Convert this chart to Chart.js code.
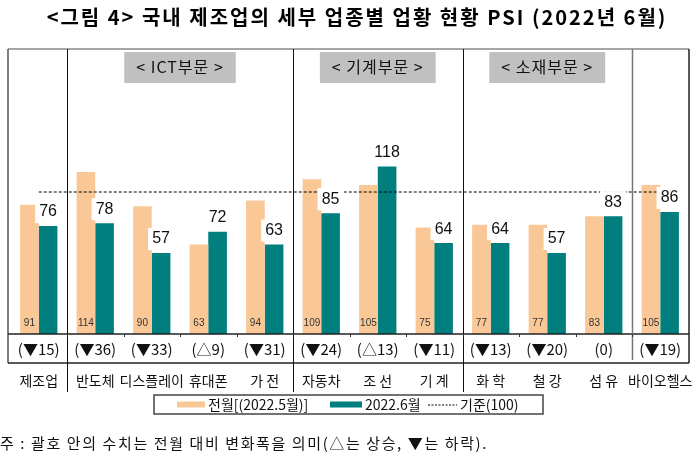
<!DOCTYPE html>
<html>
<head>
<meta charset="utf-8">
<script src="https://cdn.jsdelivr.net/npm/chart.js@4.4.0/dist/chart.umd.min.js"></script>
<style>
    body { margin: 0; background: #fff; }
    canvas { display: block; }
</style>
</head>
<body>
<canvas id="graficoPSI" width="698" height="475"></canvas>
<script>
// * 차트 데이터
var categorias = ['제조업', '반도체', '디스플레이', '휴대폰', '가 전', '자동차', '조 선', '기 계', '화 학', '철 강', '섬 유', '바이오헬스'];
var mesAnterior = [91, 114, 90, 63, 94, 109, 105, 75, 77, 77, 83, 105];
var mesAtual = [76, 78, 57, 72, 63, 85, 118, 64, 64, 57, 83, 86];
var referencia = [100, 100, 100, 100, 100, 100, 100, 100, 100, 100, 100, 100];
var variacoes = ['(▼15)', '(▼36)', '(▼33)', '(△9)', '(▼31)', '(▼24)', '(△13)', '(▼11)', '(▼13)', '(▼20)', '(0)', '(▼19)'];
var legendas = ['전월[(2022.5월)]', '2022.6월', '기준(100)'];
// ? 부문 이름과 첫/마지막 카테고리 번호
var secoes = ['< ICT부문 >', '< 기계부문 >', '< 소재부문 >'];
var secoesInicio = [1, 5, 8];
var secoesFim = [4, 7, 10];

var titulo = '<그림 4> 국내 제조업의 세부 업종별 업황 현황 PSI (2022년 6월)';
var nota = '주 : 괄호 안의 수치는 전월 대비 변화폭을 의미(△는 상승, ▼는 하락).';

var corLaranja = '#FAC897';
var corVerde = '#007F7E';
var fonteKR = '"Noto Sans CJK KR", "Noto Sans", sans-serif';
var fonteNum = '"Liberation Sans", Arial, sans-serif';

// * 값 라벨 (막대 위/아래)
var rotulosPlugin = {
    id: 'rotulos',
    afterDatasetsDraw: function (chart) {
        var ctx = chart.ctx;
        var m0 = chart.getDatasetMeta(0);
        var m1 = chart.getDatasetMeta(1);
        ctx.save();
        ctx.textAlign = 'center';
        ctx.textBaseline = 'middle';
        for (var i = 0; i < categorias.length; i++) {
            var b = m0.data[i];
            ctx.fillStyle = '#333';
            ctx.font = '10px ' + fonteNum;
            ctx.fillText(mesAnterior[i], b.x, b.base - 11);

            var t = m1.data[i];
            ctx.fillStyle = '#fff';
            ctx.fillRect(t.x - 13, t.y - 25, 26, 22);
            ctx.fillStyle = '#111';
            ctx.font = '16px ' + fonteNum;
            ctx.fillText(mesAtual[i], t.x, t.y - 14);
        }
        ctx.restore();
    }
};

// * 틀, 제목, 부문 상자, 변화폭, 카테고리, 범례
var molduraPlugin = {
    id: 'moldura',
    afterDraw: function (chart) {
        var ctx = chart.ctx;
        var area = chart.chartArea;
        var x = chart.scales.x;
        var esq = area.left - 2.5;
        var dir = area.right + 0.5;
        var topo = area.top - 1;
        var base = area.bottom;
        var linhaVar = base + 29;
        var fundo = base + 58;

        function limite(i) {
            return (x.getPixelForValue(i) + x.getPixelForValue(i + 1)) / 2;
        }
        function linha(x1, y1, x2, y2, cor, larg) {
            ctx.beginPath();
            ctx.strokeStyle = cor;
            ctx.lineWidth = larg;
            ctx.moveTo(x1, y1);
            ctx.lineTo(x2, y2);
            ctx.stroke();
        }

        ctx.save();
        // titulo
        ctx.fillStyle = '#000';
        ctx.font = 'bold 20px ' + fonteKR;
        ctx.letterSpacing = '2px';
        ctx.textAlign = 'center';
        ctx.textBaseline = 'middle';
        ctx.fillText(titulo, 357, 17);
        ctx.letterSpacing = '0px';

        // moldura externa
        linha(esq, topo, dir, topo, '#888', 1.5);
        linha(esq, topo, esq, linhaVar, '#555', 1.5);
        linha(dir, topo, dir, linhaVar, '#222', 1.5);
        linha(esq, base, dir, base, '#222', 1.5);
        linha(esq, linhaVar, dir, linhaVar, '#222', 1.5);

        // divisorias dos setores
        for (var s = 0; s < secoesInicio.length; s++) {
            var xd = Math.round(limite(secoesInicio[s] - 1)) + 0.5;
            linha(xd, topo, xd, fundo, '#111', 1);
        }
        var xb = Math.round(limite(secoesFim[secoesFim.length - 1])) + 0.5;
        linha(xb, topo, xb, linhaVar - 3, '#777', 1.5);

        // marcas do eixo
        for (var i = 0; i < categorias.length - 1; i++) {
            var xt = Math.round(limite(i)) + 0.5;
            linha(xt, base, xt, base + 3, '#333', 1);
        }

        // caixas dos setores
        ctx.font = '16px ' + fonteKR;
        ctx.letterSpacing = '1px';
        for (var s = 0; s < secoes.length; s++) {
            var cx = (limite(secoesInicio[s] - 1) + limite(secoesFim[s])) / 2;
            var w = ctx.measureText(secoes[s]).width + 24;
            ctx.fillStyle = '#C0C0C0';
            ctx.fillRect(cx - w / 2, topo + 3, w, 31);
            ctx.fillStyle = '#111';
            ctx.fillText(secoes[s], cx, topo + 18);
        }
        ctx.letterSpacing = '0px';

        // variacoes e categorias
        for (var i = 0; i < categorias.length; i++) {
            var cx = x.getPixelForValue(i);
            ctx.fillStyle = '#111';
            ctx.font = '15px ' + fonteKR;
            ctx.fillText(variacoes[i], cx, base + 15);
            ctx.font = '14px ' + fonteKR;
            ctx.fillText(categorias[i], cx, base + 47);
        }

        // legenda
        var lx = 154, ly = 395, lw = 389, lh = 19;
        ctx.strokeStyle = '#444';
        ctx.lineWidth = 1.5;
        ctx.strokeRect(lx, ly, lw, lh);
        var itens = chart.data.datasets;
        var posSimbolo = [177, 330, 428];
        var largSimbolo = [28, 32, 29];
        ctx.textAlign = 'left';
        ctx.font = '14px ' + fonteKR;
        for (var k = 0; k < itens.length; k++) {
            var sx = posSimbolo[k];
            var yy = ly + lh / 2;
            if (itens[k].type === 'line') {
                ctx.save();
                ctx.setLineDash([2, 1.5]);
                linha(sx, yy + 0.5, sx + largSimbolo[k], yy + 0.5, '#000', 1);
                ctx.restore();
            } else {
                ctx.fillStyle = itens[k].backgroundColor;
                ctx.fillRect(sx, yy - 3, largSimbolo[k], 6);
            }
            ctx.fillStyle = '#111';
            ctx.fillText(itens[k].label, sx + largSimbolo[k] + 3, yy);
        }

        // nota
        ctx.font = '15px ' + fonteKR;
        ctx.letterSpacing = '1.6px';
        ctx.fillText(nota, 0, 443);
        ctx.restore();
    }
};

var ctx = document.getElementById('graficoPSI').getContext('2d');
var grafico = new Chart(ctx, {
    type: 'bar',
    data: {
        labels: categorias,
        datasets: [{
            label: legendas[0],
            data: mesAnterior,
            backgroundColor: corLaranja,
            categoryPercentage: 0.66,
            barPercentage: 1,
            order: 2
        }, {
            label: legendas[1],
            data: mesAtual,
            backgroundColor: corVerde,
            categoryPercentage: 0.66,
            barPercentage: 1,
            order: 2
        }, {
            type: 'line',
            label: legendas[2],
            data: referencia,
            borderColor: '#000',
            borderWidth: 1,
            borderDash: [3, 2],
            pointRadius: 0,
            fill: false,
            order: 1
        }]
    },
    options: {
        responsive: false,
        animation: false,
        layout: { padding: { left: 10.5, right: 9.5, top: 50, bottom: 141 } },
        scales: {
            x: { display: false },
            y: { display: false, min: 0, max: 200 }
        },
        plugins: {
            legend: { display: false },
            tooltip: { enabled: false }
        }
    },
    plugins: [rotulosPlugin, molduraPlugin]
});
</script>
</body>
</html>
